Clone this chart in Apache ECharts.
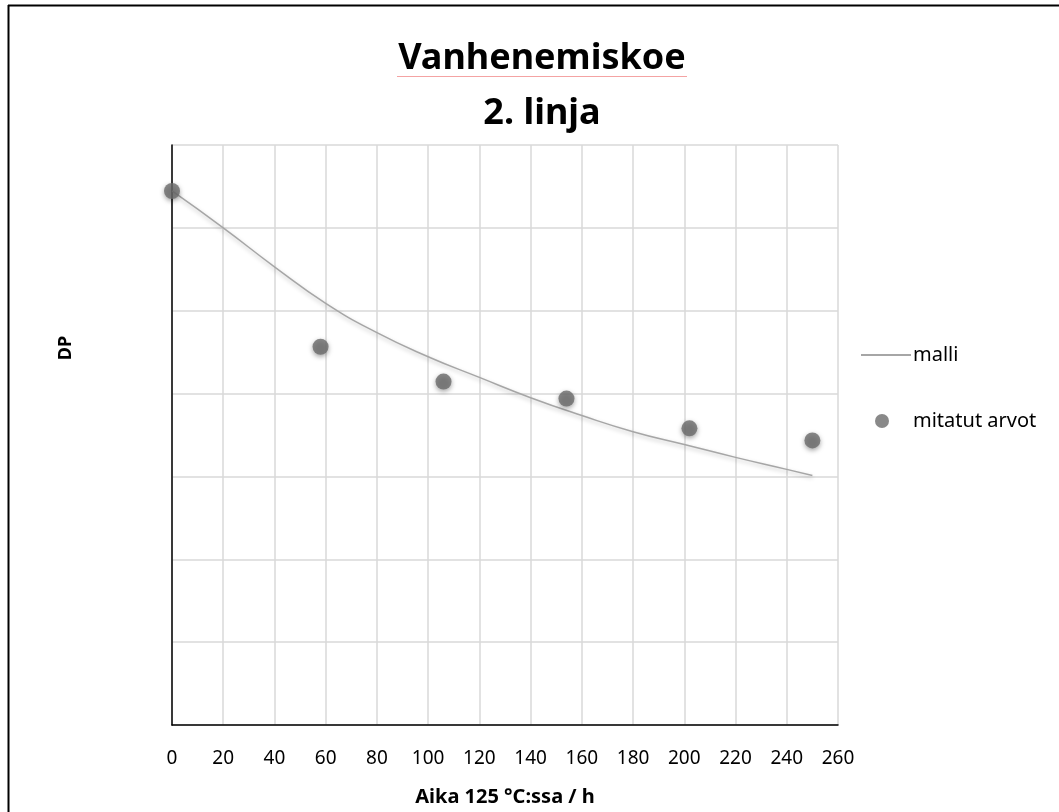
<!DOCTYPE html>
<html>
<head>
<meta charset="utf-8">
<script src="https://cdn.jsdelivr.net/npm/echarts@6/dist/echarts.min.js"></script>
<style>
  html, body { margin: 0; padding: 0; background: #fff; }
  #chart { width: 1059px; height: 812px; }
</style>
</head>
<body>
<div id="chart"></div>
<script>
// mitatut arvot (aika h, DP)
var measHours = [0, 58, 106, 154, 202, 250];
var measDP = [1289, 913, 829, 788, 716, 687];
// malli
var modelHours = [0, 20, 40, 60, 80, 100, 120, 140, 160, 180, 200, 220, 240, 250];
var modelDP = [1289, 1200, 1106, 1018, 947, 889, 839, 790, 747, 708, 677, 646, 617, 602];

var font = 'Noto Sans';

function pairs(xs, ys) {
    var out = [];
    for (var i = 0; i < xs.length; i++) out.push([xs[i], ys[i]]);
    return out;
}

var myChart = echarts.init(document.getElementById('chart'));
var option = {
    backgroundColor: '#fff',
    animation: false,
    title: {
        text: 'Vanhenemiskoe\n2. linja',
        left: 537,
        top: 26,
        textAlign: 'center',
        textStyle: {
            fontFamily: font,
            fontSize: 36,
            fontWeight: 'bold',
            color: '#000',
            lineHeight: 55
        }
    },
    grid: { left: 172, right: 221, top: 145, bottom: 86 },
    legend: [
        {
            data: ['malli'],
            left: 855, top: 340,
            itemWidth: 50, itemHeight: 2,
            textStyle: { fontFamily: font, fontSize: 20, color: '#000', padding: [0, 0, 0, -3] }
        },
        {
            data: [{ name: 'mitatut arvot', icon: 'circle' }],
            left: 870, top: 406,
            itemWidth: 14, itemHeight: 14,
            itemGap: 0,
            textStyle: { fontFamily: font, fontSize: 20, color: '#000', padding: [0, 0, 0, 19] }
        }
    ],
    xAxis: {
        type: 'value',
        min: 0, max: 260, interval: 20,
        name: 'Aika 125 °C:ssa / h',
        nameLocation: 'middle',
        nameGap: 62,
        nameTextStyle: { fontFamily: font, fontSize: 20, fontWeight: 'bold', color: '#000' },
        axisLine: { lineStyle: { color: '#000', width: 1.5 } },
        axisTick: { show: false },
        axisLabel: { fontFamily: font, fontSize: 19, color: '#000', margin: 24 },
        splitLine: { show: true, lineStyle: { color: '#d9d9d9', width: 1.5 } }
    },
    yAxis: {
        type: 'value',
        min: 0, max: 1400, interval: 200,
        axisLine: { show: true, lineStyle: { color: '#000', width: 1.5 } },
        axisTick: { show: false },
        axisLabel: { show: false },
        splitLine: { show: true, lineStyle: { color: '#d9d9d9', width: 1.5 } }
    },
    graphic: [
        { type: 'line', shape: { x1: 8, y1: 5.5, x2: 1059, y2: 5.5 }, style: { stroke: '#000', lineWidth: 2 } },
        { type: 'line', shape: { x1: 8.5, y1: 5, x2: 8.5, y2: 812 }, style: { stroke: '#000', lineWidth: 2 } },
        { type: 'line', shape: { x1: 397, y1: 76.5, x2: 687, y2: 76.5 }, style: { stroke: '#f4a3a3', lineWidth: 1 } },
        {
            type: 'text', x: 66, y: 348, rotation: Math.PI / 2,
            style: { text: 'DP', fontFamily: font, fontSize: 18, fontWeight: 'bold', fill: '#000', align: 'center', verticalAlign: 'middle' }
        }
    ],
    series: [
        {
            name: 'malli',
            type: 'line',
            smooth: 0.5,
            showSymbol: false,
            symbol: 'none',
            data: pairs(modelHours, modelDP),
            lineStyle: {
                color: '#a6a6a6', width: 1.5,
                shadowBlur: 4, shadowColor: 'rgba(0,0,0,0.25)', shadowOffsetY: 2
            },
            itemStyle: { color: '#a6a6a6' },
            z: 2
        },
        {
            name: 'mitatut arvot',
            type: 'scatter',
            symbolSize: 16,
            data: pairs(measHours, measDP),
            itemStyle: {
                color: '#6b6b6b',
                shadowBlur: 5, shadowColor: 'rgba(0,0,0,0.45)', shadowOffsetY: 2
            },
            z: 3
        }
    ]
};
myChart.setOption(option);
</script>
</body>
</html>
